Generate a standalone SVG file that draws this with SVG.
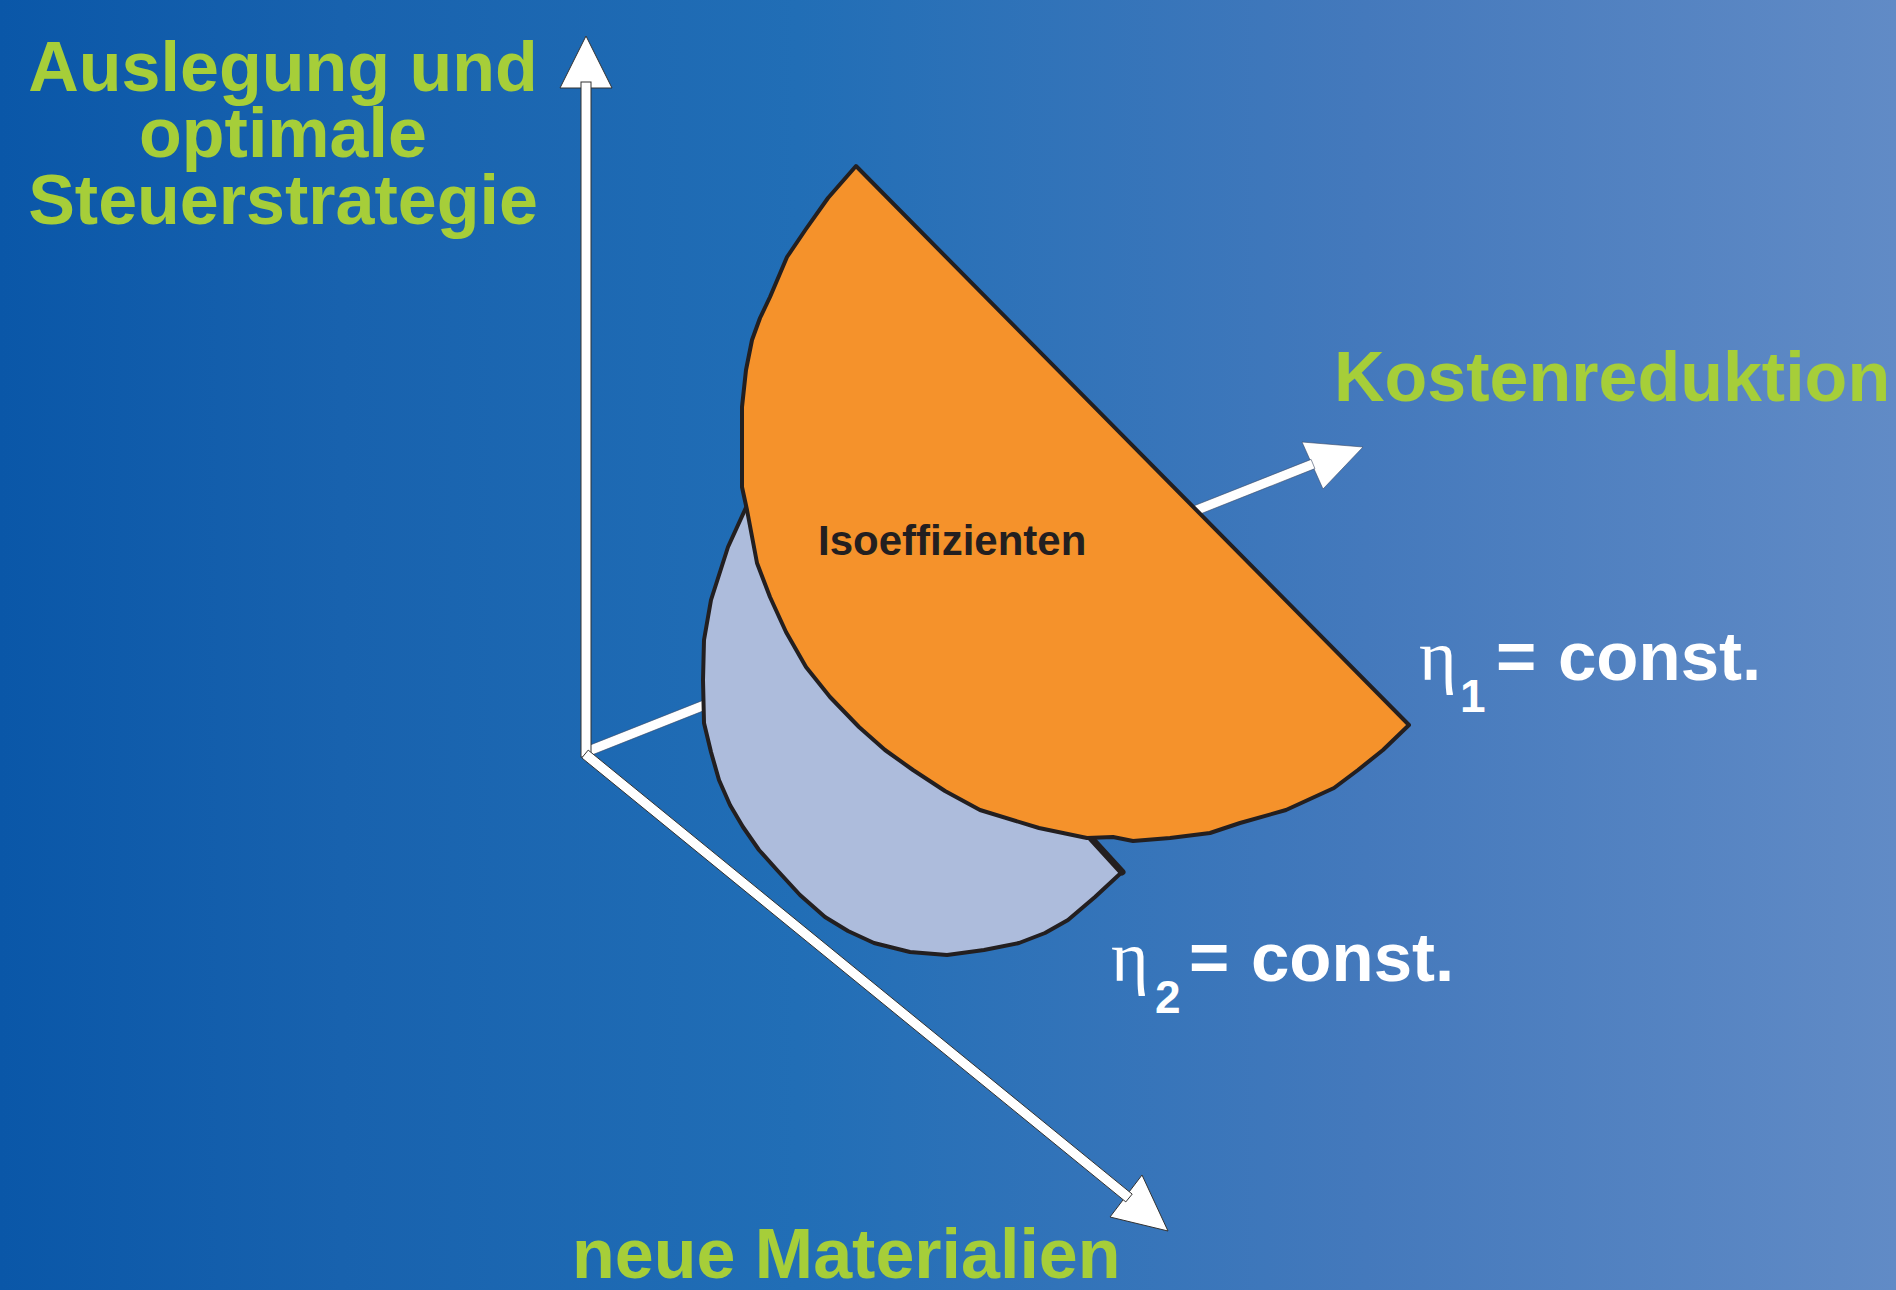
<svg xmlns="http://www.w3.org/2000/svg" width="1896" height="1290" viewBox="0 0 1896 1290">
  <defs>
    <linearGradient id="bg" x1="0" y1="0" x2="1" y2="0">
      <stop offset="0" stop-color="#0a57a8"/>
      <stop offset="0.18" stop-color="#1862ae"/>
      <stop offset="0.42" stop-color="#216eb6"/>
      <stop offset="0.72" stop-color="#4479bc"/>
      <stop offset="1" stop-color="#618bc6"/>
    </linearGradient>
    <style>
      .axis { fill: #ffffff; stroke: #333333; stroke-width: 1; stroke-linejoin: miter; }
      .axis-plain { fill: #ffffff; stroke: #3a4a66; stroke-width: 0.6; }
      .label { font-family: "Liberation Sans", Arial, sans-serif; font-weight: bold; font-size: 70px; fill: #a6ce39; }
      .eq { font-family: "Liberation Sans", Arial, sans-serif; font-weight: bold; font-size: 69px; fill: #ffffff; }
      .eta { font-family: "Liberation Serif", "Times New Roman", serif; font-weight: normal; font-size: 72px; fill: #ffffff; }
      .sub { font-family: "Liberation Sans", Arial, sans-serif; font-weight: bold; font-size: 46px; fill: #ffffff; }
      .surface { stroke: #231f20; stroke-width: 4; stroke-linejoin: round; }
    </style>
  </defs>

  <rect id="background" x="0" y="0" width="1896" height="1290" fill="url(#bg)"/>

  <g id="connectors">
    <g id="axis-kosten">
      <polygon class="axis-plain" points="1302,442 1363,447 1323,489"/>
      <polygon class="axis-plain" points="584.1,747.4 1311.1,459.4 1314.9,468.6 587.9,756.6"/>
    </g>
    <g id="axis-auslegung">
      <polygon class="axis" points="586,36 612,88 560,88"/>
      <rect class="axis" x="581" y="82" width="10" height="675"/>
    </g>
    <g id="axis-materialien">
      <polygon class="axis" points="1142,1175 1168,1231 1110,1217"/>
      <polygon class="axis" points="588.2,750.1 1132.2,1194.1 1125.8,1201.9 581.8,757.9"/>
    </g>
  </g>

  <g id="node-eta2">
    <path class="surface" fill="#adbcdc" d="M754,490 L728,547 L711,600 L704,640 L703,680 L704,723 L711,752 L719,780 L730,805 L743,827 L759,850 L777,870 L800,895 L825,917 L848,931 L874,943 L910,952 L947,955 L984,950 L1019,943 L1045,933 L1068,920 L1095,897 L1122,872 L1090,838 L950,780 Z"/>
    <line x1="1090" y1="837" x2="1122" y2="872" stroke="#231f20" stroke-width="7" stroke-linecap="round"/>
  </g>

  <g id="node-eta1">
    <path class="surface" fill="#f5922b" d="M856,166 L1409,725 L1383,750 L1358,770 L1334,788 L1286,810 L1240,823 L1210,833 L1170,838 L1133,841 L1113,837 L1087,838 L1039,828 L980,810 L945,791 L913,770 L885,750 L859,727 L830,697 L806,667 L786,632 L770,597 L757,563 L747,510 L742,487 L742,447 L742,407 L746,370 L752,340 L760,318 L770,297 L787,257 L806,229 L828,198 Z"/>
    <text x="818" y="555" font-family="'Liberation Sans', Arial, sans-serif" font-weight="bold" font-size="42" fill="#231f20">Isoeffizienten</text>
  </g>

  <g id="node-label-auslegung">
    <text class="label" text-anchor="middle" x="283" y="91">Auslegung und</text>
    <text class="label" text-anchor="middle" x="283" y="157">optimale</text>
    <text class="label" text-anchor="middle" x="283" y="224">Steuerstrategie</text>
  </g>

  <g id="node-label-kosten">
    <text class="label" x="1334" y="401">Kostenreduktion</text>
  </g>

  <g id="node-label-materialien">
    <text class="label" x="572" y="1278">neue Materialien</text>
  </g>

  <g id="node-label-eta1">
    <text><tspan class="eta" x="1419" y="680">η</tspan><tspan class="sub" x="1460" y="712">1</tspan><tspan class="eq" x="1496" y="680">=</tspan><tspan class="eq" x="1558" y="680">const.</tspan></text>
  </g>

  <g id="node-label-eta2">
    <text><tspan class="eta" x="1111" y="981">η</tspan><tspan class="sub" x="1155" y="1013">2</tspan><tspan class="eq" x="1189" y="981">=</tspan><tspan class="eq" x="1251" y="981">const.</tspan></text>
  </g>
</svg>
